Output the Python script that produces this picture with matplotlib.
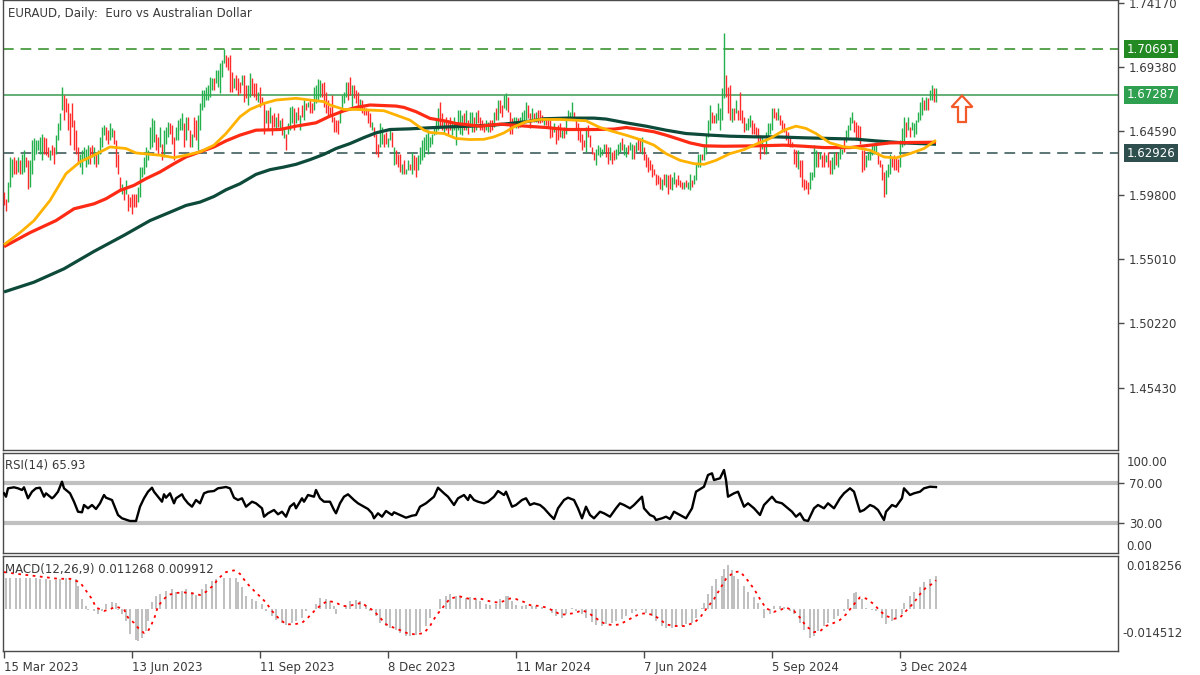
import numpy as np
import matplotlib
matplotlib.use("Agg")
import matplotlib.pyplot as plt
from matplotlib.patches import FancyArrow
from matplotlib.transforms import blended_transform_factory

# ---- price bars (daily high / low), bar 0 = 15 Mar 2023 ----
highs = [
    1.6003, 1.5953, 1.6078, 1.6265, 1.6253, 1.6265, 1.6240, 1.6265, 1.6240, 1.6290,
    1.6315, 1.6265, 1.6240, 1.6240, 1.6390, 1.6403, 1.6390, 1.6390, 1.6415, 1.6440,
    1.6415, 1.6403, 1.6340, 1.6315, 1.6353, 1.6340, 1.6428, 1.6515, 1.6590, 1.6790,
    1.6728, 1.6703, 1.6665, 1.6590, 1.6665, 1.6540, 1.6465, 1.6340, 1.6290, 1.6315,
    1.6340, 1.6328, 1.6353, 1.6340, 1.6353, 1.6340, 1.6290, 1.6315, 1.6415, 1.6490,
    1.6503, 1.6490, 1.6465, 1.6515, 1.6478, 1.6465, 1.6390, 1.6290, 1.6115, 1.6065,
    1.6040, 1.6090, 1.5990, 1.5965, 1.5990, 1.5990, 1.5990, 1.6040, 1.6190, 1.6190,
    1.6265, 1.6340, 1.6315, 1.6490, 1.6553, 1.6540, 1.6440, 1.6415, 1.6490, 1.6365,
    1.6465, 1.6490, 1.6528, 1.6515, 1.6503, 1.6415, 1.6490, 1.6540, 1.6553, 1.6590,
    1.6515, 1.6565, 1.6565, 1.6465, 1.6440, 1.6565, 1.6540, 1.6578, 1.6665, 1.6765,
    1.6765, 1.6790, 1.6803, 1.6865, 1.6853, 1.6853, 1.6915, 1.6915, 1.6965, 1.6990,
    1.7070, 1.7028, 1.7015, 1.7028, 1.6903, 1.6853, 1.6878, 1.6853, 1.6828, 1.6878,
    1.6878, 1.6803, 1.6803, 1.6890, 1.6853, 1.6815, 1.6815, 1.6753, 1.6790, 1.6715,
    1.6665, 1.6615, 1.6615, 1.6640, 1.6578, 1.6590, 1.6565, 1.6590, 1.6540, 1.6553,
    1.6478, 1.6440, 1.6515, 1.6640, 1.6645, 1.6628, 1.6603, 1.6640, 1.6578, 1.6653,
    1.6690, 1.6665, 1.6678, 1.6690, 1.6665, 1.6790, 1.6803, 1.6845, 1.6840, 1.6815,
    1.6828, 1.6753, 1.6690, 1.6640, 1.6728, 1.6565, 1.6540, 1.6540, 1.6615, 1.6728,
    1.6753, 1.6828, 1.6828, 1.6865, 1.6803, 1.6803, 1.6765, 1.6753, 1.6695, 1.6690,
    1.6640, 1.6628, 1.6615, 1.6590, 1.6528, 1.6490, 1.6440, 1.6365, 1.6515, 1.6490,
    1.6440, 1.6453, 1.6403, 1.6465, 1.6453, 1.6340, 1.6315, 1.6290, 1.6290, 1.6215,
    1.6240, 1.6178, 1.6240, 1.6215, 1.6303, 1.6278, 1.6265, 1.6278, 1.6340, 1.6390,
    1.6415, 1.6440, 1.6465, 1.6415, 1.6440, 1.6490, 1.6540, 1.6628, 1.6678, 1.6590,
    1.6540, 1.6565, 1.6540, 1.6565, 1.6528, 1.6565, 1.6515, 1.6615, 1.6615, 1.6578,
    1.6590, 1.6615, 1.6540, 1.6603, 1.6603, 1.6565, 1.6603, 1.6615, 1.6565, 1.6540,
    1.6515, 1.6540, 1.6528, 1.6540, 1.6540, 1.6603, 1.6628, 1.6690, 1.6690, 1.6653,
    1.6728, 1.6740, 1.6715, 1.6603, 1.6553, 1.6565, 1.6565, 1.6553, 1.6565, 1.6603,
    1.6615, 1.6678, 1.6653, 1.6590, 1.6628, 1.6590, 1.6603, 1.6615, 1.6615, 1.6578,
    1.6565, 1.6565, 1.6565, 1.6540, 1.6490, 1.6515, 1.6490, 1.6503, 1.6515, 1.6465,
    1.6490, 1.6565, 1.6615, 1.6603, 1.6678, 1.6603, 1.6540, 1.6515, 1.6465, 1.6440,
    1.6390, 1.6490, 1.6503, 1.6428, 1.6340, 1.6303, 1.6328, 1.6353, 1.6340, 1.6328,
    1.6365, 1.6365, 1.6340, 1.6340, 1.6303, 1.6315, 1.6328, 1.6365, 1.6378, 1.6403,
    1.6365, 1.6340, 1.6353, 1.6378, 1.6365, 1.6353, 1.6378, 1.6403, 1.6403, 1.6415,
    1.6340, 1.6290, 1.6265, 1.6240, 1.6215, 1.6178, 1.6140, 1.6128, 1.6115, 1.6103,
    1.6140, 1.6140, 1.6128, 1.6140, 1.6115, 1.6153, 1.6103, 1.6128, 1.6090, 1.6078,
    1.6078, 1.6090, 1.6078, 1.6140, 1.6090, 1.6128, 1.6215, 1.6290, 1.6290, 1.6290,
    1.6365, 1.6440, 1.6540, 1.6653, 1.6603, 1.6578, 1.6590, 1.6665, 1.6628, 1.6778,
    1.7190, 1.6878, 1.6790, 1.6803, 1.6628, 1.6628, 1.6690, 1.6615, 1.6753, 1.6615,
    1.6565, 1.6515, 1.6553, 1.6578, 1.6540, 1.6515, 1.6490, 1.6478, 1.6428, 1.6415,
    1.6353, 1.6453, 1.6515, 1.6515, 1.6628, 1.6628, 1.6603, 1.6628, 1.6578, 1.6540,
    1.6515, 1.6465, 1.6453, 1.6415, 1.6378, 1.6328, 1.6315, 1.6315, 1.6240, 1.6240,
    1.6103, 1.6090, 1.6078, 1.6153, 1.6153, 1.6353, 1.6315, 1.6303, 1.6303, 1.6278,
    1.6303, 1.6278, 1.6303, 1.6240, 1.6265, 1.6303, 1.6303, 1.6303, 1.6353, 1.6328,
    1.6415, 1.6465, 1.6503, 1.6565, 1.6603, 1.6540, 1.6528, 1.6503, 1.6495, 1.6315,
    1.6315, 1.6278, 1.6303, 1.6328, 1.6353, 1.6365, 1.6378, 1.6303, 1.6240, 1.6215,
    1.6153, 1.6165, 1.6215, 1.6290, 1.6265, 1.6278, 1.6265, 1.6253, 1.6390, 1.6478,
    1.6565, 1.6528, 1.6565, 1.6490, 1.6528, 1.6515, 1.6540, 1.6603, 1.6678, 1.6715,
    1.6690, 1.6715, 1.6703, 1.6765, 1.6803, 1.6778, 1.6778,
]
lows = [
    1.5903, 1.5865, 1.5928, 1.6040, 1.6115, 1.6140, 1.6140, 1.6153, 1.6140, 1.6140,
    1.6153, 1.6190, 1.6028, 1.6040, 1.6140, 1.6240, 1.6290, 1.6315, 1.6290, 1.6240,
    1.6290, 1.6278, 1.6265, 1.6240, 1.6278, 1.6215, 1.6290, 1.6390, 1.6465, 1.6615,
    1.6540, 1.6603, 1.6465, 1.6353, 1.6490, 1.6315, 1.6290, 1.6215, 1.6190, 1.6140,
    1.6240, 1.6190, 1.6215, 1.6215, 1.6265, 1.6215, 1.6190, 1.6215, 1.6290, 1.6340,
    1.6428, 1.6390, 1.6365, 1.6390, 1.6415, 1.6365, 1.6190, 1.6140, 1.6015, 1.5990,
    1.5940, 1.5990, 1.5865, 1.5890, 1.5840, 1.5890, 1.5890, 1.5928, 1.5965, 1.6115,
    1.6140, 1.6190, 1.6240, 1.6328, 1.6340, 1.6378, 1.6315, 1.6290, 1.6340, 1.6240,
    1.6265, 1.6365, 1.6415, 1.6440, 1.6365, 1.6240, 1.6390, 1.6390, 1.6465, 1.6465,
    1.6340, 1.6390, 1.6465, 1.6340, 1.6340, 1.6415, 1.6390, 1.6315, 1.6465, 1.6615,
    1.6640, 1.6690, 1.6690, 1.6715, 1.6765, 1.6765, 1.6815, 1.6790, 1.6740, 1.6865,
    1.6965, 1.6940, 1.6915, 1.6753, 1.6753, 1.6778, 1.6765, 1.6728, 1.6740, 1.6803,
    1.6678, 1.6703, 1.6653, 1.6715, 1.6728, 1.6715, 1.6690, 1.6678, 1.6640, 1.6665,
    1.6440, 1.6515, 1.6465, 1.6515, 1.6428, 1.6490, 1.6465, 1.6490, 1.6465, 1.6428,
    1.6403, 1.6315, 1.6440, 1.6465, 1.6515, 1.6465, 1.6515, 1.6540, 1.6465, 1.6565,
    1.6540, 1.6615, 1.6640, 1.6590, 1.6590, 1.6615, 1.6665, 1.6690, 1.6715, 1.6715,
    1.6640, 1.6590, 1.6565, 1.6578, 1.6528, 1.6453, 1.6453, 1.6440, 1.6515, 1.6615,
    1.6665, 1.6715, 1.6690, 1.6728, 1.6640, 1.6703, 1.6665, 1.6640, 1.6615, 1.6590,
    1.6578, 1.6578, 1.6515, 1.6490, 1.6465, 1.6415, 1.6290, 1.6265, 1.6340, 1.6365,
    1.6340, 1.6365, 1.6340, 1.6390, 1.6340, 1.6203, 1.6215, 1.6190, 1.6153, 1.6140,
    1.6140, 1.6140, 1.6165, 1.6165, 1.6140, 1.6165, 1.6115, 1.6165, 1.6215, 1.6240,
    1.6265, 1.6315, 1.6290, 1.6340, 1.6365, 1.6428, 1.6440, 1.6465, 1.6490, 1.6465,
    1.6440, 1.6465, 1.6428, 1.6465, 1.6428, 1.6465, 1.6353, 1.6465, 1.6440, 1.6428,
    1.6465, 1.6465, 1.6440, 1.6490, 1.6453, 1.6453, 1.6465, 1.6515, 1.6465, 1.6465,
    1.6453, 1.6465, 1.6453, 1.6453, 1.6465, 1.6490, 1.6540, 1.6540, 1.6590, 1.6565,
    1.6628, 1.6615, 1.6603, 1.6440, 1.6440, 1.6490, 1.6478, 1.6478, 1.6490, 1.6515,
    1.6515, 1.6540, 1.6553, 1.6478, 1.6540, 1.6528, 1.6528, 1.6515, 1.6515, 1.6528,
    1.6503, 1.6503, 1.6490, 1.6403, 1.6415, 1.6453, 1.6365, 1.6390, 1.6415, 1.6403,
    1.6403, 1.6440, 1.6540, 1.6540, 1.6565, 1.6540, 1.6465, 1.6390, 1.6378, 1.6315,
    1.6340, 1.6303, 1.6415, 1.6340, 1.6290, 1.6240, 1.6203, 1.6278, 1.6265, 1.6278,
    1.6303, 1.6265, 1.6215, 1.6240, 1.6215, 1.6240, 1.6253, 1.6278, 1.6303, 1.6315,
    1.6278, 1.6265, 1.6290, 1.6315, 1.6253, 1.6253, 1.6303, 1.6315, 1.6303, 1.6290,
    1.6240, 1.6190, 1.6153, 1.6165, 1.6115, 1.6128, 1.6053, 1.6065, 1.6028, 1.6015,
    1.6053, 1.6040, 1.5990, 1.6028, 1.6015, 1.6065, 1.6040, 1.6053, 1.6040, 1.6028,
    1.6028, 1.6040, 1.6028, 1.6015, 1.6040, 1.6065, 1.6090, 1.6190, 1.6190, 1.6240,
    1.6240, 1.6290, 1.6415, 1.6465, 1.6515, 1.6515, 1.6515, 1.6540, 1.6465, 1.6540,
    1.6703, 1.6715, 1.6590, 1.6540, 1.6528, 1.6540, 1.6590, 1.6540, 1.6540, 1.6515,
    1.6453, 1.6465, 1.6465, 1.6490, 1.6440, 1.6440, 1.6415, 1.6365, 1.6253, 1.6328,
    1.6290, 1.6290, 1.6403, 1.6440, 1.6465, 1.6553, 1.6540, 1.6540, 1.6503, 1.6453,
    1.6453, 1.6390, 1.6365, 1.6340, 1.6340, 1.6215, 1.6190, 1.6178, 1.6115, 1.6040,
    1.6015, 1.6028, 1.5990, 1.6028, 1.6090, 1.6115, 1.6190, 1.6190, 1.6253, 1.6190,
    1.6190, 1.6228, 1.6190, 1.6140, 1.6140, 1.6178, 1.6203, 1.6190, 1.6253, 1.6290,
    1.6303, 1.6378, 1.6415, 1.6465, 1.6515, 1.6453, 1.6403, 1.6403, 1.6365, 1.6153,
    1.6165, 1.6190, 1.6240, 1.6240, 1.6278, 1.6290, 1.6290, 1.6215, 1.6190, 1.6090,
    1.5965, 1.5990, 1.6115, 1.6140, 1.6190, 1.6165, 1.6165, 1.6153, 1.6190, 1.6340,
    1.6353, 1.6415, 1.6465, 1.6415, 1.6465, 1.6415, 1.6440, 1.6528, 1.6540, 1.6578,
    1.6615, 1.6615, 1.6615, 1.6690, 1.6690, 1.6678, 1.6678,
]
# u = bullish bar (green), d = bearish bar (red)
bar_dirs = (
    "dduuuddudu" "udduuuuuuu" "dddudduuuu" "dddddddduu" "uuudduduuu"
    "udduuddddu" "duddddduuu" "uuuuuuddud" "uuuddduuuu" "duddudduuu"
    "uuuuuduuuu" "uddddudddu" "dduudddudd" "dududdudud" "uduuududud"
    "ududduuuud" "dddddddduu" "uuddudddud" "dddduddduu" "dduududddu"
    "duududduuu" "uuuuuuuudd" "uddduuuuuu" "duduududdd" "duuddududd"
    "uuddduuduu" "uuddududdd" "uddddudddu" "duuuuddddd" "dudddduuuu"
    "uddudduuud" "uuduududdu" "dddddddddu" "dudduudddd" "uduuduuuud"
    "uuuudduuuu" "udddududdd" "duuudddddu" "duuuuddudd" "dddddddudd"
    "ddduuuudud" "dudduuduuu" "duuuuddddd" "duuuuuuddd" "duuudddduu"
    "ududuuuuuu" "duduudu"
)

# ---- moving averages (sampled) ----
ma_fast_idx = [0, 8, 15, 23, 31, 38, 45, 53, 61, 66, 78, 85, 91, 98, 105, 111, 118, 123,
               130, 136, 146, 153, 160, 163, 170, 176, 183, 190, 196, 203, 210, 213, 220,
               226, 233, 240, 245, 250, 255, 261, 268, 278, 285, 291, 298, 305, 311, 318,
               325, 331, 338, 345, 350, 356, 363, 370, 376, 383, 390, 396, 401, 406, 413,
               420, 426, 433, 440, 446, 453, 460, 466]
ma_fast = [1.5610, 1.5700, 1.5790, 1.5940, 1.6140, 1.6228, 1.6278, 1.6340, 1.6328, 1.6295,
           1.6278, 1.6260, 1.6278, 1.6303, 1.6353, 1.6440, 1.6565, 1.6620, 1.6665, 1.6690,
           1.6703, 1.6690, 1.6678, 1.6653, 1.6620, 1.6620, 1.6615, 1.6610, 1.6578, 1.6540,
           1.6465, 1.6448, 1.6440, 1.6403, 1.6395, 1.6397, 1.6415, 1.6445, 1.6490, 1.6528,
           1.6545, 1.6545, 1.6540, 1.6535, 1.6485, 1.6453, 1.6428, 1.6395, 1.6353, 1.6290,
           1.6240, 1.6215, 1.6210, 1.6240, 1.6290, 1.6320, 1.6360, 1.6403, 1.6465, 1.6495,
           1.6478, 1.6440, 1.6370, 1.6340, 1.6335, 1.6315, 1.6265, 1.6258, 1.6290, 1.6328,
           1.6390]
ma_mid_idx = [0, 13, 26, 35, 45, 51, 58, 65, 71, 78, 85, 91, 98, 105, 111, 118, 126, 138,
              146, 156, 163, 170, 176, 183, 196, 200, 206, 213, 220, 226, 233, 238, 248, 261,
              271, 281, 295, 305, 311, 318, 325, 331, 338, 343, 350, 360, 376, 390, 400, 410,
              423, 433, 443, 453, 466]
ma_mid = [1.5595, 1.5700, 1.5790, 1.5878, 1.5915, 1.5953, 1.6015, 1.6053, 1.6103, 1.6153,
          1.6215, 1.6265, 1.6303, 1.6340, 1.6385, 1.6428, 1.6465, 1.6470, 1.6495, 1.6520,
          1.6570, 1.6610, 1.6635, 1.6653, 1.6645, 1.6635, 1.6603, 1.6553, 1.6535, 1.6515,
          1.6503, 1.6495, 1.6510, 1.6495, 1.6485, 1.6470, 1.6470, 1.6473, 1.6485, 1.6470,
          1.6453, 1.6428, 1.6395, 1.6370, 1.6348, 1.6345, 1.6348, 1.6353, 1.6345, 1.6335,
          1.6335, 1.6353, 1.6370, 1.6373, 1.6375]
ma_slow_idx = [0, 15, 30, 45, 60, 73, 85, 91, 98, 105, 111, 118, 126, 133, 140, 146, 153,
               160, 166, 173, 180, 186, 193, 203, 213, 223, 233, 245, 261, 270, 281, 295,
               301, 311, 321, 331, 341, 353, 363, 376, 386, 400, 413, 426, 436, 450, 466]
ma_slow = [1.5257, 1.5330, 1.5430, 1.5560, 1.5680, 1.5790, 1.5865, 1.5903, 1.5928, 1.5970,
           1.6020, 1.6065, 1.6135, 1.6170, 1.6190, 1.6210, 1.6245, 1.6285, 1.6328, 1.6365,
           1.6410, 1.6445, 1.6470, 1.6475, 1.6483, 1.6490, 1.6495, 1.6503, 1.6528, 1.6550,
           1.6555, 1.6555, 1.6548, 1.6520, 1.6495, 1.6465, 1.6440, 1.6428, 1.6420, 1.6415,
           1.6415, 1.6408, 1.6403, 1.6398, 1.6385, 1.6370, 1.6360]

levels = [1.70691, 1.67287, 1.62926]
price_ticks = [1.74170, 1.69380, 1.64590, 1.59800, 1.55010, 1.50220, 1.45430]

# ---- RSI(14), sampled ----
rsi_idx = [0, 1, 2, 5, 7, 9, 10, 12, 14, 16, 18, 20, 21, 24, 25, 27, 29, 30, 33, 35, 37, 39,
           40, 42, 44, 46, 48, 50, 51, 54, 55, 57, 59, 60, 63, 66, 68, 70, 72, 74, 75, 77,
           79, 80, 81, 83, 85, 86, 89, 90, 92, 94, 96, 98, 100, 102, 105, 107, 109, 111,
           113, 115, 117, 119, 121, 124, 126, 129, 130, 132, 135, 137, 139, 141, 143, 145,
           146, 149, 150, 152, 155, 156, 158, 160, 163, 165, 166, 168, 170, 172, 175, 177,
           180, 182, 184, 185, 187, 189, 191, 194, 195, 198, 201, 204, 206, 208, 211, 215,
           217, 220, 222, 225, 227, 230, 232, 233, 235, 237, 240, 242, 245, 247, 250, 251,
           254, 256, 259, 261, 263, 265, 268, 270, 273, 275, 277, 280, 282, 285, 287, 289,
           291, 293, 295, 298, 300, 303, 306, 308, 310, 313, 315, 319, 320, 323, 325, 326,
           329, 331, 333, 335, 338, 341, 344, 346, 350, 352, 354, 355, 358, 360, 361, 362,
           365, 367, 370, 372, 375, 378, 380, 384, 386, 389, 391, 394, 396, 398, 400, 402,
           405, 407, 410, 412, 415, 418, 420, 423, 425, 428, 430, 433, 435, 437, 440, 441,
           444, 446, 449, 450, 453, 455, 458, 460, 463, 466]
rsi_val = [59.7, 56.3, 64.7, 65.7, 64.7, 63.0, 65.7, 54.7, 61.3, 64.7, 65.3, 56.3, 59.7,
           54.7, 56.3, 61.3, 71.3, 64.7, 59.7, 51.3, 41.3, 40.7, 48.0, 44.7, 48.0, 44.0, 49.7,
           58.0, 55.3, 53.0, 48.0, 38.0, 34.7, 34.0, 32.0, 32.0, 46.3, 54.7, 61.3, 65.3, 61.3,
           56.3, 51.3, 58.7, 55.3, 59.7, 49.7, 54.7, 58.7, 54.7, 49.7, 46.3, 53.0, 49.7, 59.7,
           61.3, 62.0, 64.7, 65.3, 66.0, 64.7, 55.3, 53.0, 54.7, 46.3, 51.3, 49.7, 44.7, 36.3,
           39.7, 43.0, 38.7, 41.3, 36.3, 46.3, 49.7, 44.7, 54.7, 51.3, 58.0, 56.3, 63.0, 54.7,
           51.3, 51.3, 43.0, 39.7, 49.7, 56.3, 58.7, 53.0, 49.7, 46.3, 44.0, 39.7, 34.7, 39.7,
           36.3, 42.0, 38.0, 40.7, 38.0, 35.3, 37.3, 38.0, 46.3, 49.7, 56.3, 65.3, 59.7, 56.3,
           48.0, 54.7, 58.0, 53.0, 58.0, 53.0, 51.3, 49.7, 51.3, 56.3, 62.0, 58.0, 61.3, 46.3,
           48.0, 53.0, 54.7, 48.0, 49.7, 48.0, 44.7, 38.0, 34.0, 44.7, 53.0, 55.3, 53.0, 44.7,
           34.7, 46.3, 38.0, 34.7, 41.3, 39.7, 36.3, 44.7, 49.7, 48.0, 44.7, 48.0, 56.3, 44.7,
           38.0, 36.3, 33.0, 34.7, 36.3, 34.0, 41.3, 38.0, 34.7, 44.7, 61.3, 66.3, 78.0, 79.7,
           73.0, 74.7, 83.0, 73.0, 56.3, 59.7, 61.3, 46.3, 49.7, 44.7, 38.0, 48.0, 56.3, 51.3,
           49.7, 46.3, 41.3, 36.3, 39.7, 33.0, 32.0, 44.7, 48.0, 44.7, 49.7, 44.7, 54.7, 59.7,
           64.7, 61.3, 41.3, 43.0, 48.0, 46.3, 43.0, 33.0, 41.3, 48.0, 46.3, 54.7, 64.7, 58.0,
           59.7, 61.3, 64.7, 66.3, 65.93]

# ---- MACD(12,26,9): histogram and signal, sampled ----
macd_idx = [1, 3, 6, 8, 11, 13, 16, 18, 21, 23, 26, 28, 31, 33, 36, 37, 39, 41, 42, 45, 47,
            49, 51, 54, 56, 57, 59, 61, 63, 66, 67, 69, 71, 72, 74, 76, 78, 81, 84, 86, 89,
            91, 94, 96, 99, 101, 104, 106, 110, 113, 116, 117, 119, 121, 124, 126, 129, 131,
            134, 136, 139, 141, 144, 146, 149, 151, 154, 156, 158, 161, 163, 165, 166, 168,
            171, 173, 176, 178, 181, 183, 186, 188, 191, 193, 196, 198, 201, 203, 206, 208,
            211, 213, 216, 218, 221, 223, 226, 228, 231, 233, 236, 238, 241, 243, 246, 248,
            251, 252, 254, 256, 259, 261, 264, 266, 269, 271, 274, 276, 279, 281, 284, 286,
            289, 291, 294, 296, 299, 301, 304, 306, 309, 311, 314, 316, 319, 321, 324, 326,
            329, 331, 334, 336, 339, 341, 344, 346, 349, 350, 352, 354, 356, 359, 360, 362,
            364, 365, 367, 370, 372, 375, 377, 379, 380, 383, 385, 388, 390, 393, 395, 398,
            400, 403, 405, 407, 410, 412, 415, 417, 420, 422, 425, 426, 429, 431, 434, 436,
            439, 441, 444, 446, 449, 450, 453, 455, 458, 460, 463, 466]
macd_hist = [0.0105, 0.0106, 0.0106, 0.0105, 0.0106, 0.0106, 0.0105, 0.0104, 0.0103, 0.0100,
             0.0099, 0.0103, 0.0105, 0.0106, 0.0104, 0.0080, 0.0034, 0.0010, -0.0004, -0.0007,
             -0.0019, -0.0007, 0.0016, 0.0024, 0.0021, -0.0003, -0.0019, -0.0042, -0.0088,
             -0.0106, -0.0112, -0.0100, -0.0077, -0.0042, 0.0025, 0.0045, 0.0051, 0.0063,
             0.0069, 0.0060, 0.0063, 0.0069, 0.0057, 0.0048, 0.0069, 0.0086, 0.0098, 0.0104,
             0.0106, 0.0107, 0.0106, 0.0092, 0.0074, 0.0045, 0.0034, 0.0028, 0.0016, -0.0007,
             -0.0025, -0.0038, -0.0048, -0.0054, -0.0048, -0.0042, -0.0031, -0.0007, -0.0001,
             0.0016, 0.0036, 0.0034, 0.0028, 0.0010, -0.0019, -0.0001, 0.0010, 0.0028, 0.0031,
             0.0028, 0.0013, -0.0007, -0.0025, -0.0048, -0.0060, -0.0066, -0.0074, -0.0084,
             -0.0095, -0.0095, -0.0089, -0.0078, -0.0060, -0.0031, -0.0001, 0.0034, 0.0045,
             0.0051, 0.0045, 0.0043, 0.0036, 0.0040, 0.0034, 0.0028, 0.0016, 0.0013, 0.0016,
             0.0034, 0.0045, 0.0043, 0.0028, 0.0013, 0.0010, 0.0013, 0.0010, 0.0010, 0.0005,
             -0.0001, -0.0013, -0.0024, -0.0030, -0.0019, 0.0002, -0.0007, -0.0019, -0.0030,
             -0.0045, -0.0056, -0.0059, -0.0053, -0.0048, -0.0042, -0.0034, -0.0024, -0.0015,
             -0.0007, -0.0004, -0.0013, -0.0024, -0.0042, -0.0059, -0.0065, -0.0065, -0.0062,
             -0.0059, -0.0053, -0.0048, -0.0030, 0.0002, 0.0022, 0.0051, 0.0080, 0.0104,
             0.0115, 0.0138, 0.0150, 0.0133, 0.0115, 0.0104, 0.0080, 0.0057, 0.0040, 0.0022,
             -0.0001, -0.0030, -0.0019, 0.0010, 0.0010, 0.0005, -0.0007, -0.0019, -0.0048,
             -0.0071, -0.0100, -0.0094, -0.0077, -0.0059, -0.0048, -0.0036, -0.0024, -0.0007,
             0.0034, 0.0055, 0.0059, 0.0034, 0.0002, -0.0004, -0.0007, -0.0030, -0.0053,
             -0.0042, -0.0036, -0.0019, 0.0022, 0.0045, 0.0057, 0.0074, 0.0092, 0.0104, 0.0112]
signal_idx = [0, 10, 20, 27, 33, 38, 41, 44, 46, 50, 53, 56, 60, 62, 65, 67, 70, 72, 75, 77,
              80, 82, 86, 90, 95, 98, 101, 105, 107, 111, 115, 118, 121, 125, 128, 131, 134,
              137, 141, 145, 149, 152, 156, 159, 162, 166, 169, 172, 176, 179, 181, 185, 188,
              191, 195, 198, 202, 206, 210, 213, 216, 220, 223, 228, 233, 238, 244, 248, 253,
              256, 260, 263, 268, 271, 275, 278, 281, 286, 289, 292, 295, 298, 301, 305, 308,
              311, 315, 318, 321, 325, 328, 331, 335, 340, 345, 348, 351, 355, 358, 361, 365,
              368, 371, 375, 378, 381, 385, 388, 391, 395, 398, 401, 405, 408, 411, 415, 418,
              421, 425, 428, 431, 435, 438, 441, 445, 448, 451, 455, 458, 461, 465, 466]
signal = [0.0127, 0.0118, 0.0110, 0.0104, 0.0104, 0.0092, 0.0063, 0.0034, 0.0005, -0.0007,
          -0.0001, 0.0008, -0.0001, -0.0030, -0.0048, -0.0065, -0.0083, -0.0077, -0.0036,
          0.0010, 0.0034, 0.0048, 0.0055, 0.0057, 0.0053, 0.0048, 0.0059, 0.0083, 0.0104,
          0.0127, 0.0133, 0.0121, 0.0092, 0.0063, 0.0043, 0.0022, -0.0007, -0.0030, -0.0053,
          -0.0053, -0.0048, -0.0030, -0.0001, 0.0016, 0.0028, 0.0022, 0.0010, 0.0010, 0.0016,
          0.0022, 0.0010, -0.0007, -0.0030, -0.0053, -0.0065, -0.0073, -0.0085, -0.0088,
          -0.0083, -0.0059, -0.0024, 0.0010, 0.0036, 0.0043, 0.0034, 0.0036, 0.0024, 0.0022,
          0.0036, 0.0034, 0.0024, 0.0013, 0.0010, 0.0005, -0.0007, -0.0019, -0.0019, -0.0013,
          -0.0004, -0.0013, -0.0027, -0.0042, -0.0053, -0.0056, -0.0053, -0.0042, -0.0027,
          -0.0017, -0.0015, -0.0022, -0.0036, -0.0053, -0.0059, -0.0059, -0.0048, -0.0030,
          -0.0001, 0.0034, 0.0069, 0.0104, 0.0127, 0.0129, 0.0106, 0.0069, 0.0034, 0.0002,
          -0.0010, -0.0004, 0.0005, -0.0007, -0.0030, -0.0059, -0.0080, -0.0077, -0.0059,
          -0.0048, -0.0038, -0.0019, 0.0016, 0.0040, 0.0036, 0.0016, -0.0007, -0.0024,
          -0.0034, -0.0030, -0.0007, 0.0022, 0.0051, 0.0074, 0.0090, 0.0099]

tick_idx = [0, 64, 128, 192, 256, 320, 384, 448]
tick_labels = ["15 Mar 2023", "13 Jun 2023", "11 Sep 2023", "8 Dec 2023",
               "11 Mar 2024", "7 Jun 2024", "5 Sep 2024", "3 Dec 2024"]

W, H = 1200, 675
TXT = "#3a3a3a"
EDGE = "#4a4a4a"

fig = plt.figure(figsize=(W / 100, H / 100), dpi=100)
fig.patch.set_facecolor("white")


def panel(top, bottom):
    ax = fig.add_axes([3 / W, 1 - bottom / H, 1115 / W, (bottom - top) / H])
    ax.set_xlim(-0.5, 557)
    for s in ax.spines.values():
        s.set_color(EDGE)
        s.set_linewidth(1)
    ax.tick_params(axis="x", bottom=False, labelbottom=False)
    ax.tick_params(axis="y", left=False, labelleft=False, right=True, labelright=True,
                   length=4, width=1, color=EDGE, labelsize=8.5, labelcolor=TXT, pad=4)
    return ax


# ---------------- price panel ----------------
ax = panel(0, 450)
ax.set_ylim(1.4077, 1.7437)
ax.set_yticks(price_ticks)
ax.set_yticklabels([f"{v:.5f}" for v in price_ticks])

x = np.arange(len(highs))
colors = ["#22b14c" if c == "u" else "#ff2a2a" for c in bar_dirs]
ax.vlines(x, lows, highs, colors=colors, linewidth=1.0, zorder=3)

ax.plot(ma_slow_idx, ma_slow, color="#0d4a3a", lw=2.3, zorder=4, solid_capstyle="butt")
ax.plot(ma_mid_idx, ma_mid, color="#ff2a14", lw=2.3, zorder=4, solid_capstyle="butt")
ax.plot(ma_fast_idx, ma_fast, color="#ffb300", lw=2.0, zorder=4, solid_capstyle="butt")

level_line = ["#2a8a22", "#3a9a50", "#2f4f4f"]
level_box = ["#238a23", "#2ea050", "#2f4f4f"]
level_style = [(0, (7, 4.5)), "-", (0, (7, 4.5))]
tr = blended_transform_factory(ax.transAxes, ax.transData)
for lv, lc, bc, ls in zip(levels, level_line, level_box, level_style):
    ax.axhline(lv, color=lc, lw=1.1, ls=ls, zorder=2)
    ax.text(1.0075, lv, f"{lv:.5f}", transform=tr, ha="left", va="center",
            color="white", fontsize=8.5, clip_on=False,
            bbox=dict(boxstyle="square,pad=0.22", fc=bc, ec="none"))

# hollow up-arrow next to the last bars
arrow = FancyArrow(479, 1.6526, 0, 0.0112, width=4, head_width=10.5, head_length=0.0085,
                   length_includes_head=False, fc="white", ec="#f25a2a", lw=1.6, zorder=5)
ax.add_patch(arrow)

fig.text(8 / W, 1 - 13 / H, "EURAUD, Daily:  Euro vs Australian Dollar",
         fontsize=8.5, color=TXT, va="center", ha="left")

# ---------------- RSI panel ----------------
ax_r = panel(453, 553)
ax_r.set_ylim(0, 100)
ax_r.set_yticks([30, 70])
ax_r.set_yticklabels(["30.00", "70.00"])
ax_r.axhline(70, color="#c0c0c0", lw=3, zorder=1)
ax_r.axhline(30, color="#c0c0c0", lw=3, zorder=1)
ax_r.plot(rsi_idx, rsi_val, color="black", lw=1.7, zorder=3)
tr_r = blended_transform_factory(ax_r.transAxes, ax_r.transData)
ax_r.text(1.0075, 91, "100.00", transform=tr_r, fontsize=8.5, color=TXT, va="center")
ax_r.text(1.0075, 7, "0.00", transform=tr_r, fontsize=8.5, color=TXT, va="center")
fig.text(5 / W, 1 - 466 / H, "RSI(14) 65.93", fontsize=8.5, color=TXT, va="center")

# ---------------- MACD panel ----------------
ax_m = panel(556, 651)
ax_m.set_ylim(-0.014512, 0.018256)
ax_m.set_yticks([])
ax_m.bar(macd_idx, macd_hist, width=1.1, color="#c0c0c0", linewidth=0, zorder=2)
ax_m.plot(signal_idx, signal, color="red", lw=1.3, ls=(0, (1.5, 2.5)), zorder=3)
tr_m = blended_transform_factory(ax_m.transAxes, ax_m.transData)
ax_m.text(1.0075, 0.0148, "0.018256", transform=tr_m, fontsize=8.5, color=TXT, va="center")
ax_m.text(1.0035, -0.0086, "-0.014512", transform=tr_m, fontsize=8.5, color=TXT, va="center")
fig.text(5 / W, 1 - 569 / H, "MACD(12,26,9) 0.011268 0.009912", fontsize=8.5,
         color=TXT, va="center")

ax_m.set_xticks(tick_idx)
ax_m.set_xticklabels(tick_labels)
ax_m.tick_params(axis="x", bottom=True, labelbottom=True, length=5, width=1,
                 color=EDGE, labelsize=8.5, labelcolor=TXT, pad=2)
for lab in ax_m.get_xticklabels():
    lab.set_horizontalalignment("left")

fig.savefig("out.png", dpi=100, facecolor="white")
